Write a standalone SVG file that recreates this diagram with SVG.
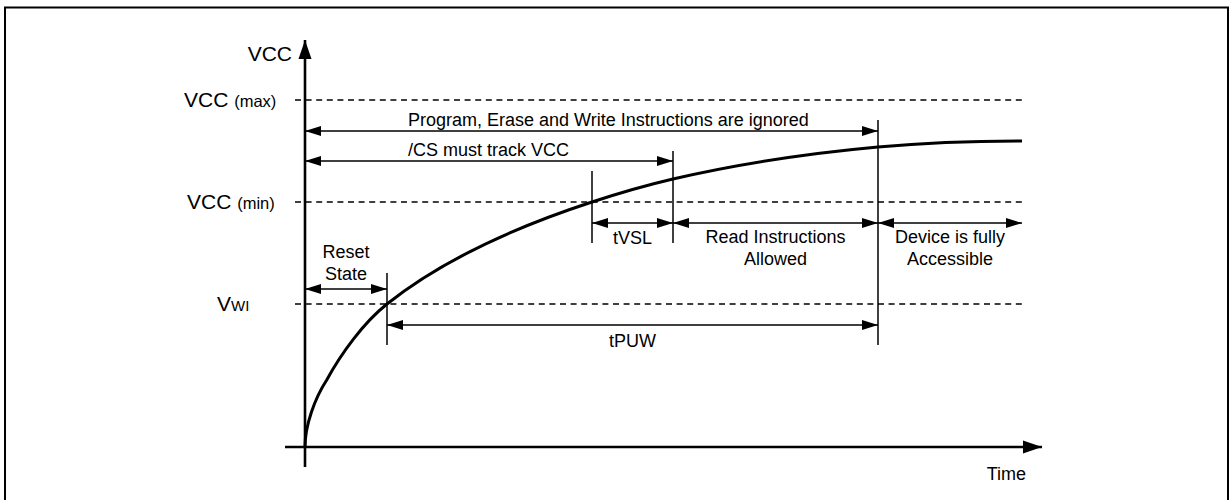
<svg xmlns="http://www.w3.org/2000/svg" width="1230" height="500" viewBox="0 0 1230 500">
<style>
text{font-family:"Liberation Sans",Arial,sans-serif;fill:#000}
.lbl{font-size:18px}
.big{font-size:21px}
.sm{font-size:16.5px}
.dash{stroke:#000;stroke-width:1.4;stroke-dasharray:6 4.6;fill:none}
.tick{stroke:#000;stroke-width:1.5;fill:none}
.darr{stroke:#000;stroke-width:1.5;fill:none;marker-end:url(#ah);marker-start:url(#ah)}
.axis{stroke:#000;stroke-width:2.6;fill:none}
</style>
<defs>
<marker id="ah" markerUnits="userSpaceOnUse" markerWidth="17" markerHeight="12" viewBox="0 0 17 12" refX="16" refY="6" orient="auto-start-reverse">
<path d="M0,1 L16,6 L0,11 Z" fill="#000"/>
</marker>
<marker id="axh" markerUnits="userSpaceOnUse" markerWidth="20" markerHeight="16" viewBox="0 0 20 16" refX="19" refY="8" orient="auto">
<path d="M0,1.5 L19,8 L0,14.5 Z" fill="#000"/>
</marker>
</defs>
<rect x="5" y="7.5" width="1223" height="600" fill="#fff" stroke="#000" stroke-width="2"/>

<g id="levels">
<line class="dash" x1="295" y1="100" x2="1022" y2="100"/>
<line class="dash" x1="295" y1="202" x2="1022" y2="202"/>
<line class="dash" x1="295" y1="304" x2="1022" y2="304"/>
</g>

<g id="axes">
<line class="axis" x1="305" y1="467" x2="305" y2="40" marker-end="url(#axh)"/>
<line class="axis" x1="285" y1="447" x2="1042" y2="447" marker-end="url(#axh)"/>
</g>

<g id="axis-labels">
<text class="big" x="292" y="61" text-anchor="end">VCC</text>
<text x="184" y="107"><tspan class="big">VCC </tspan><tspan class="sm">(max)</tspan></text>
<text x="187" y="209"><tspan class="big">VCC </tspan><tspan class="sm">(min)</tspan></text>
<text x="217" y="311"><tspan class="big">V</tspan><tspan style="font-size:15px">WI</tspan></text>
<text class="lbl" x="1026" y="480" text-anchor="end">Time</text>
</g>

<g id="curve">
<path d="M305,447 C305,425 315,398 326.7,380 C341,353.6 363.6,322.6 387,304 C445.5,257.5 520.75,225.25 592,202 C617.6,193.6 646.7,185.1 673,179 C740.3,163.5 809.3,153.2 878,147 C925.8,142.7 974,141 1022,141" fill="none" stroke="#000" stroke-width="3"/>
</g>

<g id="ticks">
<line class="tick" x1="387" y1="273" x2="387" y2="345"/>
<line class="tick" x1="592" y1="171" x2="592" y2="243"/>
<line class="tick" x1="673" y1="151" x2="673" y2="243"/>
<line class="tick" x1="878" y1="120" x2="878" y2="345"/>
</g>

<g id="connectors">
<line class="darr" x1="305" y1="131" x2="878" y2="131"/>
<line class="darr" x1="305" y1="161" x2="673" y2="161"/>
<line class="darr" x1="592" y1="223" x2="673" y2="223"/>
<line class="darr" x1="673" y1="223" x2="878" y2="223"/>
<line class="darr" x1="878" y1="223" x2="1022" y2="223"/>
<line class="darr" x1="305" y1="289" x2="387" y2="289"/>
<line class="darr" x1="387" y1="325" x2="878" y2="325"/>
</g>

<g id="label-program">
<text class="lbl" x="408" y="126">Program, Erase and Write Instructions are ignored</text>
</g>
<g id="label-cs">
<text class="lbl" x="408" y="156">/CS must track VCC</text>
</g>
<g id="label-tvsl">
<text class="lbl" x="632.5" y="244" text-anchor="middle">tVSL</text>
</g>
<g id="label-read">
<text class="lbl" x="775.5" y="243" text-anchor="middle">Read Instructions</text>
<text class="lbl" x="775.5" y="265" text-anchor="middle">Allowed</text>
</g>
<g id="label-device">
<text class="lbl" x="950" y="243" text-anchor="middle">Device is fully</text>
<text class="lbl" x="950" y="265" text-anchor="middle">Accessible</text>
</g>
<g id="label-reset">
<text class="lbl" x="346" y="258" text-anchor="middle">Reset</text>
<text class="lbl" x="346" y="280" text-anchor="middle">State</text>
</g>
<g id="label-tpuw">
<text class="lbl" x="632.5" y="347" text-anchor="middle">tPUW</text>
</g>
</svg>
